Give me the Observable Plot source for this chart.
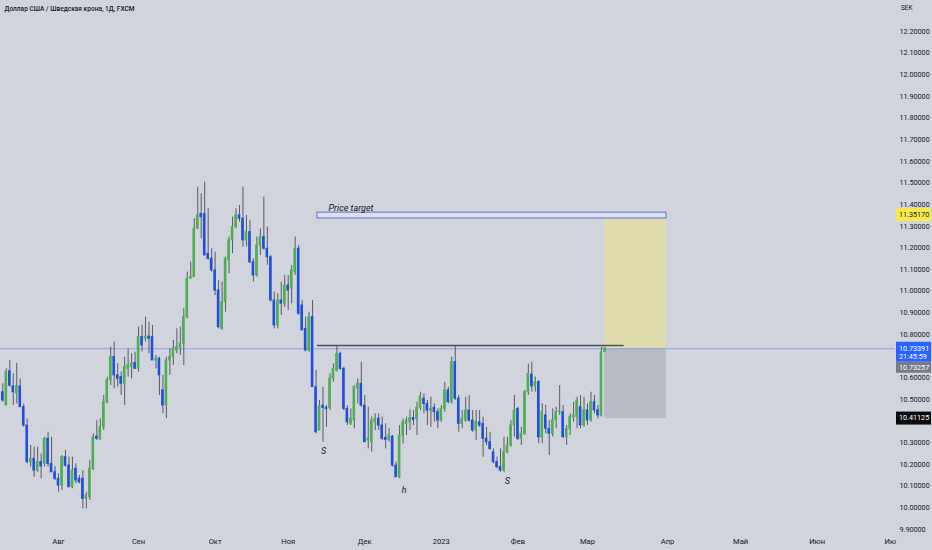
<!DOCTYPE html>
<html><head><meta charset="utf-8">
<script src="https://cdn.jsdelivr.net/npm/d3@7"></script>
<script src="https://cdn.jsdelivr.net/npm/@observablehq/plot@0.6"></script>
<style>
html,body{margin:0;padding:0;background:#d1d4dc;}
#chart{width:932px;height:550px;overflow:hidden;}
svg{display:block;}
</style></head><body><div id="chart"></div>
<script>
// ---- data ----
const title = "Доллар США / Шведская крона, 1Д, FXCM";
const firstBarIndex = -16; // bar index of first candle (0 = 1 Aug 2022)
const open = [
10.533,10.472,10.630,10.560,10.528,10.560,10.464,10.379,10.210,10.225,
10.171,10.210,10.202,10.318,10.202,10.163,10.133,10.102,10.233,10.194,
10.094,10.179,10.133,10.133,10.040,10.048,10.179,10.328,10.318,10.371,
10.487,10.588,10.696,10.611,10.603,10.572,10.641,10.649,10.668,10.641,
10.788,10.780,10.790,10.788,10.680,10.688,10.541,10.472,10.680,10.695,
10.726,10.741,10.757,10.880,11.057,11.065,11.288,11.357,11.357,11.173,
11.150,11.096,11.003,10.826,10.950,11.142,11.235,11.296,11.350,11.335,
11.235,11.273,11.134,11.073,11.211,11.250,11.196,11.157,10.957,10.842,
10.957,10.942,11.026,11.011,11.088,11.196,10.934,10.826,10.726,10.880,
10.556,10.356,10.471,10.461,10.461,10.595,10.633,10.710,10.641,10.456,
10.387,10.402,10.549,10.572,10.471,10.310,10.302,10.394,10.410,10.379,
10.322,10.313,10.328,10.194,10.140,10.333,10.387,10.394,10.414,10.410,
10.461,10.503,10.479,10.448,10.461,10.441,10.402,10.456,10.541,10.487,
10.672,10.503,10.387,10.402,10.448,10.402,10.356,10.394,10.387,10.318,
10.302,10.256,10.210,10.187,10.171,10.256,10.287,10.379,10.456,10.318,
10.341,10.533,10.614,10.560,10.580,10.325,10.426,10.364,10.341,10.403,
10.441,10.441,10.326,10.364,10.418,10.418,10.464,10.380,10.449,10.403,
10.487,10.449,10.426,10.718];
const high = [
10.572,10.641,10.679,10.618,10.667,10.595,10.479,10.410,10.287,10.279,
10.279,10.248,10.325,10.348,10.325,10.190,10.156,10.240,10.264,10.233,
10.233,10.202,10.148,10.171,10.071,10.217,10.341,10.402,10.410,10.518,
10.602,10.741,10.765,10.665,10.626,10.695,10.734,10.711,10.718,10.834,
10.842,10.880,10.857,10.842,10.703,10.695,10.611,10.695,10.734,10.772,
10.826,10.834,10.919,11.088,11.134,11.335,11.481,11.450,11.504,11.381,
11.196,11.180,11.050,11.042,11.157,11.250,11.342,11.381,11.396,11.481,
11.350,11.327,11.150,11.250,11.288,11.435,11.296,11.165,10.996,10.988,
11.042,11.073,11.073,11.119,11.250,11.211,10.957,10.880,10.903,10.957,
10.633,10.495,10.556,10.471,10.618,10.664,10.744,10.718,10.649,10.471,
10.456,10.564,10.595,10.672,10.518,10.464,10.418,10.433,10.433,10.418,
10.387,10.364,10.333,10.210,10.379,10.410,10.418,10.451,10.448,10.487,
10.533,10.525,10.495,10.510,10.479,10.456,10.471,10.579,10.556,10.695,
10.749,10.518,10.448,10.510,10.518,10.448,10.448,10.448,10.418,10.371,
10.348,10.271,10.233,10.271,10.325,10.325,10.402,10.518,10.464,10.371,
10.541,10.664,10.672,10.603,10.587,10.480,10.472,10.403,10.456,10.464,
10.564,10.472,10.380,10.433,10.487,10.510,10.518,10.510,10.480,10.533,
10.518,10.472,10.741,10.741];
const low = [
10.487,10.472,10.556,10.472,10.479,10.464,10.371,10.202,10.187,10.140,
10.163,10.133,10.187,10.187,10.163,10.125,10.071,10.079,10.187,10.094,
10.087,10.110,10.110,9.994,9.994,10.033,10.171,10.310,10.310,10.356,
10.479,10.564,10.549,10.557,10.518,10.472,10.603,10.595,10.641,10.626,
10.719,10.765,10.711,10.680,10.641,10.518,10.434,10.411,10.611,10.657,
10.711,10.703,10.657,10.872,11.057,11.065,11.288,11.242,11.165,11.142,
11.088,10.980,10.826,10.819,10.903,11.080,11.173,11.288,11.319,11.204,
11.204,11.127,11.042,11.065,11.165,11.188,11.119,10.950,10.826,10.826,
10.888,10.926,10.911,10.942,11.073,10.888,10.819,10.719,10.718,10.557,
10.341,10.356,10.302,10.371,10.448,10.579,10.626,10.633,10.448,10.379,
10.379,10.364,10.479,10.464,10.302,10.271,10.256,10.356,10.356,10.310,
10.271,10.302,10.187,10.140,10.133,10.294,10.333,10.356,10.379,10.333,
10.448,10.433,10.379,10.371,10.395,10.364,10.394,10.441,10.479,10.479,
10.495,10.348,10.364,10.394,10.394,10.348,10.310,10.371,10.233,10.287,
10.264,10.202,10.179,10.163,10.163,10.248,10.279,10.325,10.310,10.287,
10.333,10.518,10.533,10.533,10.295,10.295,10.341,10.241,10.326,10.364,
10.426,10.318,10.287,10.333,10.395,10.364,10.364,10.372,10.380,10.395,
10.433,10.410,10.418,10.718];
const close = [
10.495,10.626,10.564,10.533,10.560,10.464,10.379,10.210,10.225,10.171,
10.210,10.190,10.318,10.202,10.163,10.133,10.102,10.233,10.194,10.094,
10.171,10.125,10.117,10.040,10.056,10.179,10.325,10.318,10.371,10.487,
10.587,10.696,10.611,10.595,10.572,10.649,10.657,10.664,10.641,10.788,
10.749,10.790,10.780,10.680,10.688,10.611,10.472,10.680,10.695,10.734,
10.741,10.757,10.880,11.057,11.065,11.288,11.350,11.342,11.165,11.150,
11.096,11.003,10.834,10.950,11.150,11.235,11.296,11.350,11.335,11.235,
11.273,11.134,11.073,11.211,11.250,11.196,11.157,10.957,10.842,10.957,
10.942,11.026,11.003,11.096,11.196,10.896,10.819,10.726,10.880,10.557,
10.348,10.467,10.461,10.455,10.595,10.641,10.710,10.641,10.456,10.394,
10.410,10.556,10.572,10.471,10.302,10.318,10.402,10.410,10.379,10.318,
10.313,10.333,10.194,10.140,10.333,10.394,10.402,10.414,10.405,10.461,
10.513,10.479,10.448,10.456,10.441,10.402,10.456,10.541,10.487,10.672,
10.503,10.387,10.410,10.448,10.402,10.356,10.394,10.379,10.318,10.302,
10.271,10.210,10.187,10.171,10.256,10.287,10.379,10.448,10.318,10.341,
10.533,10.618,10.560,10.580,10.325,10.441,10.364,10.341,10.403,10.441,
10.445,10.326,10.364,10.418,10.426,10.495,10.380,10.449,10.403,10.487,
10.449,10.426,10.718,10.734];

const monthTicks  = [0, 23, 45, 66, 88, 110, 132, 152, 175, 196, 218, 239];
const monthLabels = ["Авг","Сен","Окт","Ноя","Дек","2023","Фев","Мар","Апр","Май","Июн","Ию"];
const priceTicks  = [9.9,10.0,10.1,10.2,10.3,10.4,10.5,10.6,10.7,10.8,10.9,11.0,11.1,11.2,11.3,11.4,11.5,11.6,11.7,11.8,11.9,12.0,12.1,12.2];

const targetPrice = 11.35170, lastPrice = 10.73391, bidPrice = 10.73257, stopPrice = 10.41125;
const lastTime = "21:45:59";
const necklinePrice = 10.749;
const necklineBars = [74.4, 162.5];
const targetBox = {x1: 74.4, x2: 174.7, y1: 11.336, y2: 11.363};
const positionBars = [156.9, 174.7];
const targetLabel = {text: "Price target", x: 77.6, y: 11.385};
const patternLabels = ["S", "h", "S"];
const patternBars   = [76.2, 99.3, 129.0];
const patternPrices = [10.262, 10.080, 10.120];

// ---- build ----
const candles = open.map((o, k) => ({i: firstBarIndex + k, o, h: high[k], l: low[k], c: close[k]}));
const GREEN = "#4caf50", BLUE = "#1f4fdc", WICK = "#4b4e57";
const W = 932, H = 550, MR = 37, MB = 18;
const FONT = "Roboto, 'Liberation Sans', sans-serif";

const yDomain = [9.8848, 12.3433];
const pxPerPrice = (H - MB) / (yDomain[1] - yDomain[0]);
// ticks hidden behind the price badges on the right axis
const badgeSpans = [[targetPrice, 7, 7], [lastPrice, 7, 24], [stopPrice, 7, 7]];
const visibleTicks = priceTicks.filter(t => !badgeSpans.some(([v, up, down]) => {
  const dpx = (v - t) * pxPerPrice; // positive: tick below badge centre
  return dpx > -up - 3 && dpx < down + 3;
}));

const chart = Plot.plot({
  width: W, height: H,
  marginLeft: 0, marginRight: MR, marginTop: 0, marginBottom: MB,
  style: {background: "transparent", fontFamily: FONT, overflow: "visible"},
  x: {domain: [-16.67, 240.5]},
  y: {domain: yDomain},
  marks: [
    Plot.rect([0], {x1: positionBars[0], x2: positionBars[1], y1: lastPrice, y2: targetPrice, fill: "#e0dcae"}),
    Plot.rect([0], {x1: positionBars[0], x2: positionBars[1], y1: stopPrice, y2: lastPrice, fill: "#b9bcc5"}),
    Plot.rect([targetBox], {x1: "x1", x2: "x2", y1: "y1", y2: "y2", fill: "#dfe0ec", stroke: "#5873d6", strokeWidth: 1}),
    Plot.text([targetLabel], {x: "x", y: "y", text: "text", textAnchor: "start", fontStyle: "italic", fontSize: 9, fill: "#131722"}),
    Plot.ruleY([lastPrice], {stroke: "#7f96ee", strokeWidth: 0.8}),
    Plot.ruleY([necklinePrice], {x1: necklineBars[0], x2: necklineBars[1], stroke: "#4d4f55", strokeWidth: 1.3}),
    Plot.ruleX(candles, {x: "i", y1: "l", y2: "h", stroke: WICK, strokeWidth: 0.9}),
    Plot.rect(candles, {x1: d => d.i - 0.37, x2: d => d.i + 0.37, y1: "o", y2: "c",
      fill: d => d.c >= d.o ? GREEN : BLUE, insetTop: -0.5, insetBottom: -0.5}),
    Plot.text(patternLabels, {x: (d, k) => patternBars[k], y: (d, k) => patternPrices[k], text: d => d,
      fontSize: 9, fill: "#131722", fontStyle: "italic"}),
    Plot.text([title], {frameAnchor: "top-left", dx: 4, dy: 5, textAnchor: "start", lineAnchor: "top",
      fontSize: 8, fontWeight: 500, fill: "#131722", className: "chart-title"}),
    Plot.axisY({anchor: "right", ticks: visibleTicks, tickFormat: d => d.toFixed(5), tickSize: 0, tickPadding: 4,
      fontSize: 7.2, color: "#131722", label: null}),
    Plot.axisX({ticks: monthTicks, tickFormat: d => monthLabels[monthTicks.indexOf(d)], tickSize: 0, tickPadding: 6,
      fontSize: 7.6, color: "#131722", label: null})
  ]
});
document.getElementById("chart").appendChild(chart);

// condense the title to the reference's width
d3.select(chart).selectAll(".chart-title text").attr("textLength", 130).attr("lengthAdjust", "spacingAndGlyphs");

// right-axis price badges, positioned through Plot's y scale
const y = chart.scale("y");
const svg = d3.select(chart);
const axX = W - MR + 1, boxW = 35, tx = W - MR + 4;
const g = svg.append("g").attr("font-family", FONT).attr("font-size", 7.2).attr("text-anchor", "start");
function badge(v, bg, fg, lines, h) {
  const yc = y.apply(v);
  g.append("rect").attr("x", axX).attr("y", yc - 6.5).attr("width", boxW).attr("height", h).attr("fill", bg);
  lines.forEach((t, k) => g.append("text").attr("x", tx).attr("y", yc + k * 8.6).attr("dy", "0.32em").attr("fill", fg).text(t));
  return yc - 6.5 + h;
}
badge(targetPrice, "#f7e94a", "#131722", [targetPrice.toFixed(5)], 13);
const bottom = badge(lastPrice, "#2962ff", "#ffffff", [lastPrice.toFixed(5), lastTime], 20);
g.append("rect").attr("x", axX).attr("y", bottom).attr("width", boxW).attr("height", 11).attr("fill", "#787b86");
g.append("text").attr("x", tx).attr("y", bottom + 5.5).attr("dy", "0.32em").attr("fill", "#fff").text(bidPrice.toFixed(5));
badge(stopPrice, "#0b0b0d", "#ffffff", [stopPrice.toFixed(5)], 13);
g.append("text").attr("x", W - MR + 6).attr("y", 8).attr("dy", "0.32em").attr("font-size", 6.5).attr("fill", "#131722").text("SEK");
</script>
</body></html>
